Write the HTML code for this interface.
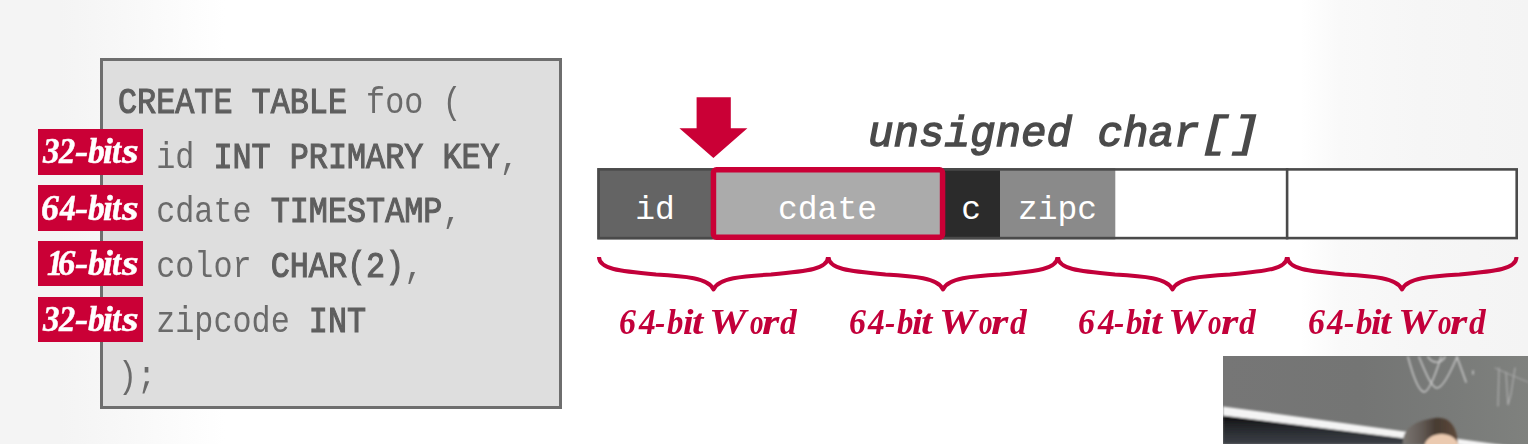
<!DOCTYPE html>
<html><head><meta charset="utf-8">
<style>
html,body{margin:0;padding:0;}
body{width:1528px;height:444px;overflow:hidden;position:relative;
background:linear-gradient(90deg,#f4f4f4 0px,#f4f4f4 60px,#f7f7f7 110px,#fbfbfb 170px,#ffffff 225px,#ffffff 1300px,#f9f9f9 1340px,#f6f6f6 1420px,#f4f4f4 1528px);
font-family:"Liberation Mono",monospace;}
.abs{position:absolute;}
#code{left:100px;top:57.5px;width:456px;height:345px;border:3px solid #6e6e6e;background:#dedede;}
.ln{position:absolute;left:118px;font-size:31.8px;line-height:40px;color:#6a6a6a;white-space:pre;transform-origin:0 29px;transform:scaleY(1.14);}
.ln b{color:#5e5e5e;font-weight:normal;-webkit-text-stroke:1px #5e5e5e;}
.lab{position:absolute;left:38px;width:104.5px;height:45.5px;background:#ca0036;}
.g,.gb{position:absolute;font-family:"Liberation Serif",serif;font-weight:bold;font-style:italic;font-size:36px;line-height:36px;white-space:pre;transform-origin:0 0;}
.g{color:#c2003a;}
.gb{color:#fff;-webkit-text-stroke:0.5px #fff;}
.cell{position:absolute;top:168.3px;height:64px;padding-top:6.7px;color:#fff;font-size:33px;line-height:71px;text-align:center;}
</style></head><body>
<div id="code" class="abs"></div>
<div class="ln" style="top:85.00px"><b>CREATE TABLE</b> foo (</div>
<div class="ln" style="top:139.70px">  id <b>INT PRIMARY KEY</b>,</div>
<div class="ln" style="top:194.40px">  cdate <b>TIMESTAMP</b>,</div>
<div class="ln" style="top:249.10px">  color <b>CHAR(2)</b>,</div>
<div class="ln" style="top:303.80px">  zipcode <b>INT</b></div>
<div class="ln" style="top:358.50px">);</div>

<div class="lab" style="top:129.40px"></div>
<div class="lab" style="top:185.10px"></div>
<div class="lab" style="top:240.80px"></div>
<div class="lab" style="top:296.50px"></div>

<span class="gb" style="left:43.46px;top:132.85px;transform:scaleX(0.918)">3</span><span class="gb" style="left:59.49px;top:132.85px;transform:scaleX(0.897)">2</span><span class="gb" style="left:75.16px;top:132.85px;transform:scaleX(1.108)">-</span><span class="gb" style="left:87.86px;top:132.85px;transform:scaleX(0.930)">b</span><span class="gb" style="left:103.30px;top:132.85px;transform:scaleX(0.985)">i</span><span class="gb" style="left:112.01px;top:132.85px;transform:scaleX(0.907)">t</span><span class="gb" style="left:122.13px;top:132.85px;transform:scaleX(1.191)">s</span><span class="gb" style="left:40.77px;top:189.65px;transform:scaleX(0.996)">6</span><span class="gb" style="left:60.00px;top:189.65px;transform:scaleX(0.881)">4</span><span class="gb" style="left:75.16px;top:189.65px;transform:scaleX(1.108)">-</span><span class="gb" style="left:87.86px;top:189.65px;transform:scaleX(0.930)">b</span><span class="gb" style="left:103.30px;top:189.65px;transform:scaleX(0.985)">i</span><span class="gb" style="left:112.01px;top:189.65px;transform:scaleX(0.907)">t</span><span class="gb" style="left:122.13px;top:189.65px;transform:scaleX(1.191)">s</span><span class="gb" style="left:46.55px;top:244.65px;transform:scaleX(0.888)">1</span><span class="gb" style="left:58.31px;top:244.65px;transform:scaleX(0.966)">6</span><span class="gb" style="left:75.16px;top:244.65px;transform:scaleX(1.108)">-</span><span class="gb" style="left:87.86px;top:244.65px;transform:scaleX(0.930)">b</span><span class="gb" style="left:103.30px;top:244.65px;transform:scaleX(0.985)">i</span><span class="gb" style="left:112.01px;top:244.65px;transform:scaleX(0.907)">t</span><span class="gb" style="left:122.13px;top:244.65px;transform:scaleX(1.191)">s</span><span class="gb" style="left:43.46px;top:300.55px;transform:scaleX(0.918)">3</span><span class="gb" style="left:59.49px;top:300.55px;transform:scaleX(0.897)">2</span><span class="gb" style="left:75.16px;top:300.55px;transform:scaleX(1.108)">-</span><span class="gb" style="left:87.86px;top:300.55px;transform:scaleX(0.930)">b</span><span class="gb" style="left:103.30px;top:300.55px;transform:scaleX(0.985)">i</span><span class="gb" style="left:112.01px;top:300.55px;transform:scaleX(0.907)">t</span><span class="gb" style="left:122.13px;top:300.55px;transform:scaleX(1.191)">s</span>

<!-- bar -->
<svg class="abs" style="left:0;top:0" width="1528" height="444">
<rect x="597.3" y="168.1" width="920.7" height="71.3" fill="#fff"/>
<rect x="597.3" y="168.1" width="115.2" height="71.3" fill="#646464"/>
<rect x="712.5" y="168.1" width="230" height="71.3" fill="#ababab"/>
<rect x="942.5" y="168.1" width="57.5" height="71.3" fill="#2b2b2b"/>
<rect x="1000" y="168.1" width="115.3" height="71.3" fill="#8a8a8a"/>
<rect x="598.6" y="169.4" width="918.1" height="68.7" fill="none" stroke="#4a4a4a" stroke-width="2.6"/>
<rect x="1285.8" y="168.1" width="2.6" height="71.3" fill="#4a4a4a"/>
<rect x="713.45" y="169.75" width="229.1" height="67.5" rx="3" fill="none" stroke="#ca0036" stroke-width="5.5"/>
</svg>
<div class="cell" style="left:597.5px;width:115px;">id</div>
<div class="cell" style="left:712.5px;width:230px;">cdate</div>
<div class="cell" style="left:942.5px;width:57.5px;">c</div>
<div class="cell" style="left:1000px;width:115px;">zipc</div>

<!-- arrow -->
<svg class="abs" style="left:0;top:0" width="1528" height="444">
<path d="M696.6,97.2 H730.8 V128.2 H747.4 L713.4,158 L679.4,128.2 H696.6 Z" fill="#ca0036"/>
</svg>

<div class="abs" style="left:868px;top:111px;font-size:42.5px;line-height:49px;font-weight:normal;font-style:italic;color:#4a4a4a;-webkit-text-stroke:1.4px #4a4a4a;white-space:pre;transform-origin:0 35.8px;transform:scaleY(1.02);">unsigned char<span style="display:inline-block;transform-origin:0 0;transform:scaleX(1.2)">[]</span></div>

<!-- braces -->
<svg class="abs" style="left:0;top:0" width="1528" height="444" fill="none" stroke="#c2003a" stroke-width="4" stroke-linejoin="round">
<g id="br"><path d="M599,257 C599,269 619,271 656,274.5 C684,276 709,278 713.5,289.5 C718,278 743,276 771,274.5 C808,271 828,269 828,257"/></g>
<use href="#br" x="229.5"/>
<use href="#br" x="459"/>
<use href="#br" x="688.5"/>
</svg>

<span class="g" style="left:619.44px;top:303.75px;transform:scaleX(0.942)">6</span><span class="g" style="left:638.62px;top:303.75px;transform:scaleX(0.933)">4</span><span class="g" style="left:655.45px;top:303.75px;transform:scaleX(0.856)">-</span><span class="g" style="left:667.17px;top:303.75px;transform:scaleX(0.912)">b</span><span class="g" style="left:682.54px;top:303.75px;transform:scaleX(1.053)">i</span><span class="g" style="left:691.67px;top:303.75px;transform:scaleX(1.132)">t</span><span class="g" style="left:709.31px;top:303.75px;transform:scaleX(1.166)">W</span><span class="g" style="left:749.58px;top:303.75px;transform:scaleX(0.753)">o</span><span class="g" style="left:761.69px;top:303.75px;transform:scaleX(1.234)">r</span><span class="g" style="left:780.21px;top:303.75px;transform:scaleX(0.927)">d</span><span class="g" style="left:848.89px;top:303.75px;transform:scaleX(0.942)">6</span><span class="g" style="left:868.07px;top:303.75px;transform:scaleX(0.933)">4</span><span class="g" style="left:884.90px;top:303.75px;transform:scaleX(0.856)">-</span><span class="g" style="left:896.62px;top:303.75px;transform:scaleX(0.912)">b</span><span class="g" style="left:911.99px;top:303.75px;transform:scaleX(1.053)">i</span><span class="g" style="left:921.12px;top:303.75px;transform:scaleX(1.132)">t</span><span class="g" style="left:938.76px;top:303.75px;transform:scaleX(1.166)">W</span><span class="g" style="left:979.03px;top:303.75px;transform:scaleX(0.753)">o</span><span class="g" style="left:991.14px;top:303.75px;transform:scaleX(1.234)">r</span><span class="g" style="left:1009.66px;top:303.75px;transform:scaleX(0.927)">d</span><span class="g" style="left:1078.34px;top:303.75px;transform:scaleX(0.942)">6</span><span class="g" style="left:1097.52px;top:303.75px;transform:scaleX(0.933)">4</span><span class="g" style="left:1114.35px;top:303.75px;transform:scaleX(0.856)">-</span><span class="g" style="left:1126.07px;top:303.75px;transform:scaleX(0.912)">b</span><span class="g" style="left:1141.44px;top:303.75px;transform:scaleX(1.053)">i</span><span class="g" style="left:1150.57px;top:303.75px;transform:scaleX(1.132)">t</span><span class="g" style="left:1168.21px;top:303.75px;transform:scaleX(1.166)">W</span><span class="g" style="left:1208.48px;top:303.75px;transform:scaleX(0.753)">o</span><span class="g" style="left:1220.59px;top:303.75px;transform:scaleX(1.234)">r</span><span class="g" style="left:1239.11px;top:303.75px;transform:scaleX(0.927)">d</span><span class="g" style="left:1307.79px;top:303.75px;transform:scaleX(0.942)">6</span><span class="g" style="left:1326.97px;top:303.75px;transform:scaleX(0.933)">4</span><span class="g" style="left:1343.80px;top:303.75px;transform:scaleX(0.856)">-</span><span class="g" style="left:1355.52px;top:303.75px;transform:scaleX(0.912)">b</span><span class="g" style="left:1370.89px;top:303.75px;transform:scaleX(1.053)">i</span><span class="g" style="left:1380.02px;top:303.75px;transform:scaleX(1.132)">t</span><span class="g" style="left:1397.66px;top:303.75px;transform:scaleX(1.166)">W</span><span class="g" style="left:1437.93px;top:303.75px;transform:scaleX(0.753)">o</span><span class="g" style="left:1450.04px;top:303.75px;transform:scaleX(1.234)">r</span><span class="g" style="left:1468.56px;top:303.75px;transform:scaleX(0.927)">d</span>

<!-- video inset -->
<svg class="abs" style="left:1223px;top:356px" width="305" height="88" viewBox="0 0 305 88">
<defs>
<linearGradient id="bd" x1="0" y1="0" x2="1" y2="0">
<stop offset="0" stop-color="#767676"/><stop offset="0.45" stop-color="#747574"/><stop offset="0.75" stop-color="#797b79"/><stop offset="1" stop-color="#7f817e"/>
</linearGradient>
<linearGradient id="dk" x1="0" y1="0" x2="0" y2="1">
<stop offset="0" stop-color="#0e0e10"/><stop offset="0.4" stop-color="#25272b"/><stop offset="1" stop-color="#3c4046"/>
</linearGradient>
<linearGradient id="hr" x1="0" y1="0" x2="1" y2="0">
<stop offset="0" stop-color="#7a7672"/><stop offset="0.35" stop-color="#625a54"/><stop offset="0.6" stop-color="#473b32"/><stop offset="1" stop-color="#5f4a3b"/>
</linearGradient>
<filter id="bl"><feGaussianBlur stdDeviation="0.8"/></filter>
</defs>
<rect width="305" height="88" fill="url(#bd)"/>
<g fill="none" stroke="#d2d2d2" stroke-width="1.6" stroke-linecap="round" opacity="0.85" filter="url(#bl)">
<path d="M185,1 C190,20 196,35 201,36 C206,36 212,20 218,1"/>
<path d="M196,1 C203,18 209,32 214,32 C220,32 228,15 234,1 L243,26"/>
<path d="M205,1 C210,8 218,8 222,1"/>
<path d="M250,15 L250,18"/>
<path d="M276,12 L275,50 M283,16 L285,49 L288,38 L292,12" stroke="#b8b8b8" stroke-width="1.2"/>
<path d="M272,12 C285,18 295,22 305,26" stroke="#a8a8a8" stroke-width="1.2"/>
</g>
<g filter="url(#bl)">
<polygon points="0,59.5 230,88 0,88" fill="url(#dk)"/>
<polygon points="0,50.4 305,92.5 305,98 0,59.5" fill="#f4f4f4"/>
<path d="M180,88 C179,74 190,65 212,62 C226,60 232,70 234,80 L235,88 Z" fill="url(#hr)"/>
<ellipse cx="218.5" cy="90.5" rx="17" ry="12.5" fill="#ebcab0"/>
</g>
</svg>
</body></html>
